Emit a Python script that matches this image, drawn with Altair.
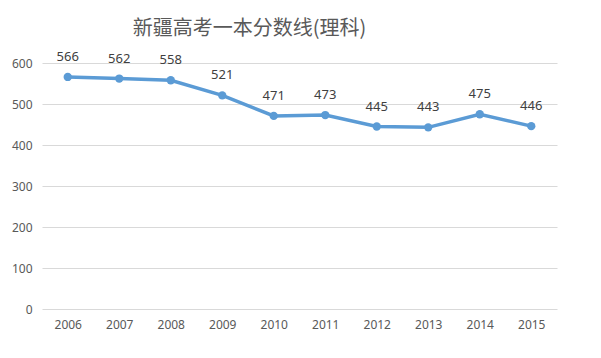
import altair as alt
import pandas as pd

years = ["2006", "2007", "2008", "2009", "2010", "2011", "2012", "2013", "2014", "2015"]
scores = [566, 562, 558, 521, 471, 473, 445, 443, 475, 446]

df = pd.DataFrame({"year": years, "score": scores})

x = alt.X("year:O", sort=years, title=None,
          scale=alt.Scale(paddingInner=0, paddingOuter=0.5),
          axis=alt.Axis(labelAngle=0, domain=False, ticks=False, labelPadding=10,
                        labelColor="#595959", labelFontSize=12, labelFont="Noto Sans"))
y = alt.Y("score:Q", title=None,
          scale=alt.Scale(domain=[0, 600], nice=False),
          axis=alt.Axis(values=[0, 100, 200, 300, 400, 500, 600], domain=False, ticks=False,
                        labelPadding=10, gridColor="#D9D9D9", gridWidth=1,
                        labelColor="#595959", labelFontSize=12, labelFont="Noto Sans"))

line = alt.Chart(df).mark_line(color="#5B9BD5", strokeWidth=3.5).encode(x=x, y=y)
pts = alt.Chart(df).mark_point(color="#5B9BD5", filled=True, size=70, opacity=1).encode(x=x, y=y)
labels = alt.Chart(df).mark_text(baseline="middle", dy=-20, fontSize=13, color="#404040",
                                 font="Noto Sans").encode(x=x, y=y, text="score:Q")

chart = (line + pts + labels).properties(
    width=515, height=246,
    autosize=alt.AutoSizeParams(type="none"),
    padding={"left": 34, "top": 55, "right": 30, "bottom": 30},
    title=alt.TitleParams("新疆高考一本分数线(理科)", font="Noto Sans CJK SC", fontSize=20,
                          fontWeight="normal", color="#595959", anchor="middle", dx=-50,
                          offset=12),
).configure_view(stroke=None)

chart.save("out.html", embed_options={"renderer": "svg", "actions": False})
